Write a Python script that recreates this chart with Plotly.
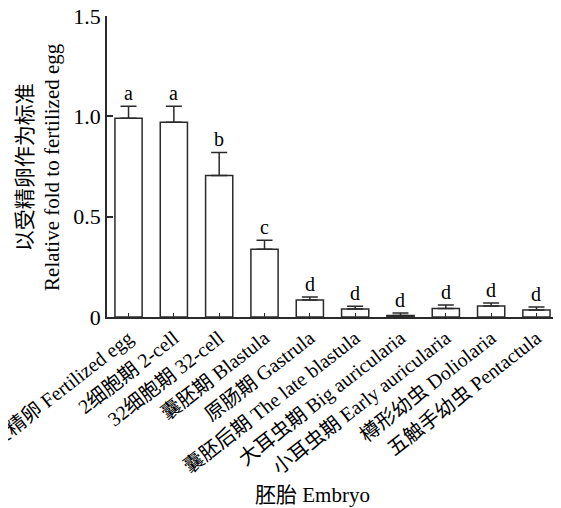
import plotly.graph_objects as go

categories = ["受精卵 Fertilized egg", "2细胞期 2-cell", "32细胞期 32-cell", "囊胚期 Blastula",
              "原肠期 Gastrula", "囊胚后期 The late blastula", "大耳虫期 Big auricularia",
              "小耳虫期 Early auricularia", "樽形幼虫 Doliolaria", "五触手幼虫 Pentactula"]
values = [0.99, 0.97, 0.705, 0.338, 0.085, 0.04, 0.008, 0.042, 0.055, 0.035]
errors = [0.06, 0.08, 0.115, 0.045, 0.015, 0.013, 0.012, 0.018, 0.015, 0.015]
letters = ["a", "a", "b", "c", "d", "d", "d", "d", "d", "d"]
ytick_vals = [0, 0.5, 1.0, 1.5]
ytick_text = ["0", "0.5", "1.0", "1.5"]

FONT = "Liberation Serif, Times New Roman, Noto Sans CJK SC, serif"
LINE = "#2a2a2a"

x_idx = list(range(len(categories)))

fig = go.Figure()
fig.add_trace(go.Bar(
    x=x_idx, y=values, width=0.6,
    marker=dict(color="white", line=dict(color=LINE, width=1.5)),
    error_y=dict(type="data", array=errors, arrayminus=[0] * len(errors), symmetric=False,
                 color=LINE, thickness=1.5, width=8),
    showlegend=False,
))

for i, (v, e, l) in enumerate(zip(values, errors, letters)):
    fig.add_annotation(x=i, y=v + e, text=l, showarrow=False, yanchor="bottom", yshift=0,
                       font=dict(family=FONT, size=20, color="black"))

fig.add_annotation(xref="paper", yref="paper", x=-0.152, y=0.5,
                   text="以受精卵作为标准<br>Relative fold to fertilized egg",
                   textangle=-90, showarrow=False, xanchor="center", yanchor="middle",
                   font=dict(family=FONT, size=21, color="black"))
fig.add_annotation(xref="paper", yref="paper", x=0.455, y=-0.59,
                   text="胚胎 Embryo", showarrow=False, xanchor="center", yanchor="middle",
                   font=dict(family=FONT, size=21, color="black"))

fig.update_layout(
    width=561, height=508,
    margin=dict(l=99, r=11, t=8, b=199),
    plot_bgcolor="white", paper_bgcolor="white",
    font=dict(family=FONT, size=20, color="black"),
    bargap=0.4,
)
fig.update_xaxes(
    range=[-0.475, 9.475], tickmode="array", tickvals=x_idx, ticktext=categories,
    tickangle=-38, ticks="inside", ticklen=4, tickwidth=1.2, tickcolor=LINE,
    showline=True, linecolor=LINE, linewidth=1.5, showgrid=False, zeroline=False,
    tickfont=dict(family=FONT, size=20, color="black"), automargin=False,
    ticklabeloverflow="allow",
)
fig.update_yaxes(
    range=[0, 1.5], tickmode="array", tickvals=ytick_vals, ticktext=ytick_text,
    ticks="inside", ticklen=6, tickwidth=1.5, tickcolor=LINE,
    showline=True, linecolor=LINE, linewidth=1.5, showgrid=False, zeroline=False,
    tickfont=dict(family=FONT, size=22, color="black"), automargin=False,
    ticklabeloverflow="allow",
)

fig.write_html("out.html")
